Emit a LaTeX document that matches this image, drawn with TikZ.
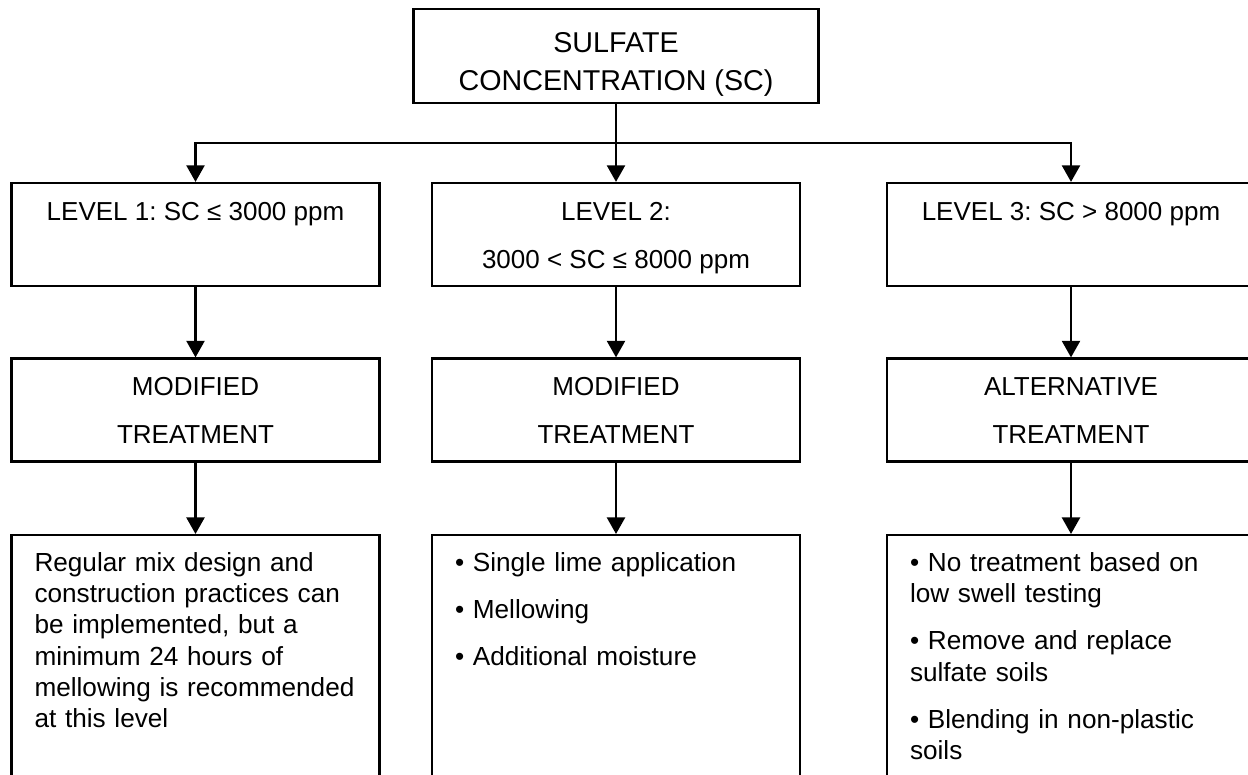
\documentclass[tikz,border=0pt]{standalone}
\usepackage{fontspec}
\setmainfont{Liberation Sans}
\frenchspacing
\usetikzlibrary{arrows.meta}

\begin{document}
\begin{tikzpicture}[
  x=0.6pt, y=-0.6pt,
  frame/.style={draw, line width=1.3pt},
  headbox/.style={frame, minimum width=243pt, inner xsep=0pt, inner ysep=0pt, align=center, font=\fontsize{17.2}{22.8}\selectfont},
  lvlbox/.style={frame, minimum width=220.8pt, minimum height=61.8pt, inner ysep=0pt, align=center, font=\fontsize{15.6}{28.8}\selectfont},
  notebox/.style={frame, anchor=north, text width=193.2pt, inner xsep=13.8pt, inner ysep=0pt, align=left, text depth=140pt, font=\fontsize{15.7}{18.8}\selectfont},
  link/.style={-{Triangle[length=10pt, width=10.8pt]}, line width=1.6pt}
]
  \useasboundingbox (0,0) rectangle (1248,774);
  \clip (0,0) rectangle (1248,774);

  % Top box
  \node[headbox] (sc) at (616,56) {\rule{0pt}{26pt}SULFATE\\CONCENTRATION (SC)\rule[-7.6pt]{0pt}{7.6pt}};

  % Concentration levels
  \node[lvlbox] (lvl1) at (195.5,234.5) {\strut LEVEL 1: SC ≤ 3000 ppm\\\strut};
  \node[lvlbox] (lvl2) at (616,234.5)   {\strut LEVEL 2:\\\strut 3000 < SC ≤ 8000 ppm};
  \node[lvlbox] (lvl3) at (1071,234.5)  {\strut LEVEL 3: SC > 8000 ppm\\\strut};

  % Treatment type
  \node[lvlbox] (trt1) at (195.5,410) {\strut MODIFIED\\\strut TREATMENT};
  \node[lvlbox] (trt2) at (616,410)   {\strut MODIFIED\\\strut TREATMENT};
  \node[lvlbox] (trt3) at (1071,410)  {\strut ALTERNATIVE\\\strut TREATMENT};

  % Recommendations (boxes run off the page)
  \node[notebox] (rec1) at (195.5,534) {\rule{0pt}{21.6pt}Regular mix design and\\construction practices can\\be implemented, but a\\minimum 24 hours of\\mellowing is recommended\\at this level};
  \node[notebox] (rec2) at (616,534) {\rule{0pt}{21.6pt}• Single lime application\\[9.6pt]• Mellowing\\[9.6pt]• Additional moisture};
  \node[notebox] (rec3) at (1071,534) {\rule{0pt}{21.6pt}• No treatment based on\\low swell testing\\[9.6pt]• Remove and replace\\sulfate soils\\[9.6pt]• Blending in non-plastic\\soils};

  % Connectors
  \coordinate (split) at (616,143);
  \draw[line width=1.6pt] (sc.south) -- (split);
  \draw[link] (split) -| (lvl1.north);
  \draw[link] (split) -- (lvl2.north);
  \draw[link] (split) -| (lvl3.north);

  \draw[link] (lvl1.south) -- (trt1.north);
  \draw[link] (lvl2.south) -- (trt2.north);
  \draw[link] (lvl3.south) -- (trt3.north);

  \draw[link] (trt1.south) -- (rec1.north);
  \draw[link] (trt2.south) -- (rec2.north);
  \draw[link] (trt3.south) -- (rec3.north);
\end{tikzpicture}
\end{document}
